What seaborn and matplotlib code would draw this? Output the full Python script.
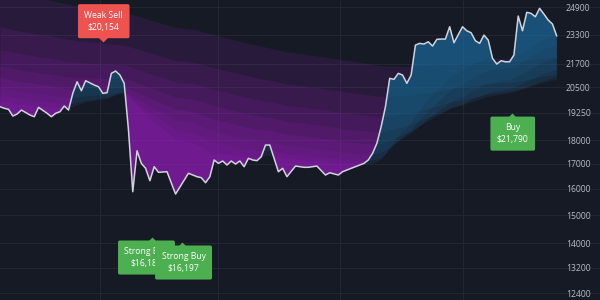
import numpy as np
import matplotlib
matplotlib.use("Agg")
import matplotlib.pyplot as plt
from matplotlib.path import Path
from matplotlib.markers import MarkerStyle
from matplotlib.ticker import FixedLocator, FixedFormatter, NullLocator
import seaborn as sns

# ---------------- data ----------------
days = [0, 1, 2, 3, 4, 5, 7, 8, 9, 11, 12, 13, 14, 15, 16, 17, 18, 19, 20, 22,
        23, 24, 25, 26, 27, 28, 29, 30, 31, 32, 33, 34, 35, 36, 37, 38, 39, 40, 41, 44,
        46, 47, 48, 49, 50, 51, 52, 53, 54, 55, 56, 57, 58, 59, 60, 61, 62, 63, 64, 65,
        66, 67, 69, 71, 72, 74, 76, 77, 79, 80, 82, 83, 85, 86, 87, 88, 89, 90, 91, 92,
        93, 94, 95, 96, 97, 98, 99, 100, 101, 102, 103, 104, 105, 106, 108, 109, 110, 111, 112, 113,
        114, 115, 116, 117, 118, 119, 120, 121, 122, 123, 124, 125, 126, 127, 128, 129, 130]
close = [19540, 19465, 19415, 19100, 19195, 19382, 19148, 19069, 19509, 19228,
         19069, 19228, 19303, 19574, 19382, 20189, 20767, 20318, 20819, 20602,
         20516, 20189, 20219, 21197, 21317, 21110, 20687, 18458, 15881, 17549,
         17019, 16813, 16312, 16880, 16651, 16663, 16675, 16222, 15792, 16611,
         16474, 16434, 16233, 16474, 17159, 17019, 17116, 16950, 17116, 16990,
         17116, 16880, 17229, 17159, 17129, 17296, 17796, 17796, 17229, 16675,
         16813, 16474, 16907, 16855, 16855, 16907, 16541, 16633, 16541, 16675,
         16813, 16880, 17019, 17159, 17440, 17871, 18610, 19540, 20941, 20889,
         21197, 21110, 20687, 21110, 22711, 22806, 22769, 22895, 22657, 23030,
         23047, 23047, 23750, 22841, 23750, 23518, 23404, 22953, 22806, 23271,
         22990, 21987, 21683, 21859, 21805, 21805, 22166, 24377, 23518, 24599,
         24539, 24335, 24840, 24497, 24141, 23907, 23217]

# moving-average ribbon: lengths and their values just before the first bar
ema_lengths = [25, 35, 50, 70, 95, 125, 160, 200]
ema_seed = [19800, 20100, 20500, 21000, 21600, 22500, 23800, 26000]

y_ticks = [12400, 13200, 14000, 15000, 16000, 17000, 18000, 19250, 20500, 21700, 23300, 24900]
grid_days = [23.4, 51.0, 79.4, 108.1]

sig_day = [24.0, 35.5, 42.5, 119.6]
sig_level = [22881, 14221, 14049, 19240]
sig_text = ["Weak Sell\n$20,154", "Strong Buy\n$16,186", "Strong Buy\n$16,197", "Buy\n$21,790"]
sig_kind = ["sell", "buy", "buy", "buy"]

# ---------------- style ----------------
BG = "#161a25"
GRID = "#222633"
BLUE = "#1f6a9c"
PURPLE = "#9a1fbf"
LINE = "#d1d4dc"
RED = "#ef5350"
GREEN = "#4caf50"

sns.set_theme(style="dark", rc={"axes.facecolor": BG, "figure.facecolor": BG})
plt.rcParams["font.family"] = ["Open Sans", "DejaVu Sans"]

fig = plt.figure(figsize=(6, 3), dpi=100)
ax = fig.add_axes([0, 0, 1, 1])
ax.set_facecolor(BG)

price = np.array(close, dtype=float)
x = np.array(days, dtype=float)


def ema(series, length, seed):
    a = 2.0 / (length + 1.0)
    out = np.empty_like(series)
    prev = seed
    for i, p in enumerate(series):
        prev = a * p + (1 - a) * prev
        out[i] = prev
    return out


for L, s in zip(ema_lengths, ema_seed):
    e = ema(price, L, s)
    ax.fill_between(x, price, e, where=price >= e, interpolate=True,
                    color=BLUE, alpha=0.14, linewidth=0, zorder=1)
    ax.fill_between(x, price, e, where=price < e, interpolate=True,
                    color=PURPLE, alpha=0.14, linewidth=0, zorder=1)

sns.lineplot(x=x, y=price, ax=ax, color=LINE, linewidth=1.1, zorder=4)

# axes
ax.set_yscale("log")
ax.set_ylim(12194, 25351)
ax.set_xlim(0, 140.1)
ax.yaxis.set_major_locator(FixedLocator(y_ticks))
ax.yaxis.set_major_formatter(FixedFormatter([str(t) for t in y_ticks]))
ax.yaxis.set_minor_locator(NullLocator())
ax.yaxis.tick_right()
ax.tick_params(axis="y", length=0, pad=-24.5, labelsize=6.2, labelcolor="#b8bbc4")
ax.xaxis.set_major_locator(FixedLocator(grid_days))
ax.tick_params(axis="x", length=0, labelbottom=False)
ax.grid(True, color=GRID, linewidth=0.8)
ax.set_xlabel("")
ax.set_ylabel("")
for sp in ax.spines.values():
    sp.set_visible(False)

# signal labels
down_tri = MarkerStyle(Path([(-1, 1), (1, 1), (0, 0), (-1, 1)],
                            [Path.MOVETO, Path.LINETO, Path.LINETO, Path.CLOSEPOLY]))
up_tri = MarkerStyle(Path([(-1, -1), (1, -1), (0, 0), (-1, -1)],
                          [Path.MOVETO, Path.LINETO, Path.LINETO, Path.CLOSEPOLY]))
box_offset_pt = [(0.7, 15.0), (-4.0, -14.8), (1.1, -14.8), (0.4, -14.8)]

for i, (d, lv, t, k) in enumerate(zip(sig_day, sig_level, sig_text, sig_kind)):
    col = RED if k == "sell" else GREEN
    z = 10 + 2 * i
    ax.annotate(t, xy=(d, lv), xytext=box_offset_pt[i], textcoords="offset points",
                ha="center", va="center", fontsize=6.2, color="white", linespacing=1.45,
                zorder=z,
                bbox=dict(boxstyle="round,pad=0.75,rounding_size=0.2", fc=col, ec="none"))
    ax.plot([d], [lv], marker=down_tri if k == "sell" else up_tri, markersize=8,
            color=col, markeredgewidth=0, linestyle="none", zorder=z + 1)

fig.savefig("out.png", dpi=100, facecolor=BG)
